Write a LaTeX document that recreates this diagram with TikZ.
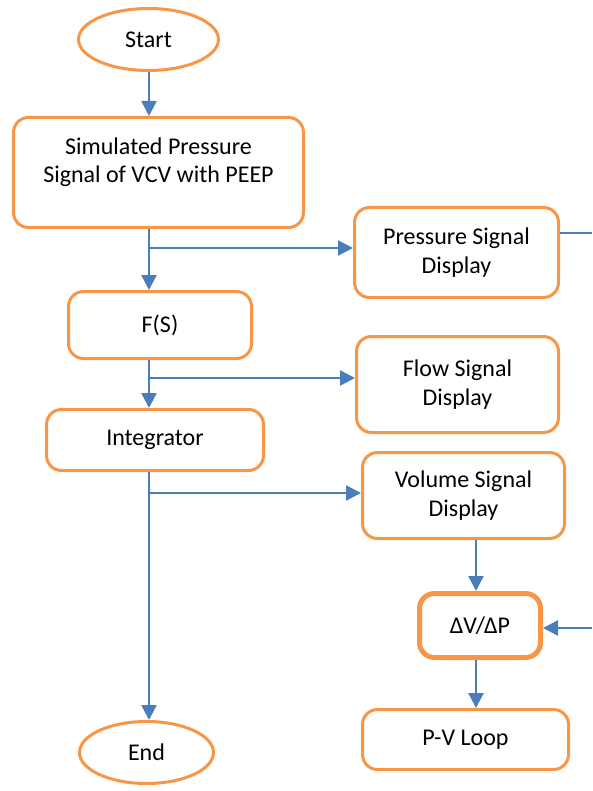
\documentclass[tikz,border=0pt]{standalone}
\usepackage{fontspec}
\setmainfont{Carlito}
\usetikzlibrary{arrows.meta,shapes.geometric}
\definecolor{boxorange}{HTML}{F79646}
\definecolor{arrblue}{HTML}{4A7EBB}
\tikzset{
	box/.style={draw=boxorange,line width=3pt,rounded corners=15pt,fill=white,align=center},
	term/.style={draw=boxorange,line width=3pt,ellipse,fill=white},
	arr/.style={draw=arrblue,line width=2.5pt,-{Triangle[length=15pt,width=15pt]}},
	wire/.style={draw=arrblue,line width=2.5pt}
}
\begin{document}
\begin{tikzpicture}[x=1pt,y=-1pt,font=\fontsize{24}{28.5}\selectfont,line join=round]
	\useasboundingbox (0,0) rectangle (592,791);
	%Các khối chính
	\node[term,minimum width=140,minimum height=62] (start) at (148.5,39.5) {Start};
	\node[box,minimum width=290,minimum height=110] (sim) at (158.5,172.5) {};
	\node[align=center] (simtxt) at ([yshift=10.5]sim.center) {Simulated Pressure\\Signal of VCV with PEEP};
	\node[box,minimum width=204,minimum height=90] (psd) at (456.5,252.5) {Pressure Signal\\Display};
	\node[box,minimum width=183,minimum height=67] (fs) at (160,325) {F(S)};
	\node[box,minimum width=202,minimum height=96] (flow) at (457.5,384.5) {Flow Signal\\Display};
	\node[box,minimum width=217,minimum height=61] (integ) at (155,440) {Integrator};
	\node[box,minimum width=202,minimum height=86] (vol) at (463.5,495.5) {Volume Signal\\Display};
	\node[box,line width=5pt,minimum width=121,minimum height=64] (dvdp) at (480,625.5) {ΔV/ΔP};
	\node[box,minimum width=206,minimum height=60] (pv) at (465.5,739.5) {P-V Loop};
	\node[term,minimum width=134,minimum height=62] (end) at (146.5,752.5) {End};
	%Các điểm rẽ nhánh
	\coordinate (b1) at (149,248);
	\coordinate (b2) at (149,378);
	\coordinate (b3) at (149,493);
	\coordinate (pout) at (592,233);
	\coordinate (pin) at (592,628);
	%Mũi tên
	\draw[arr] (b1 |- start.south) -- (b1 |- sim.north);
	\draw[arr] (b1 |- sim.south) -- (b1 |- fs.north);
	\draw[arr] (b1) -- (b1 -| psd.west);
	\draw[arr] (b1 |- fs.south) -- (b1 |- integ.north);
	\draw[arr] (b2) -- (b2 -| flow.west);
	\draw[arr] (b1 |- integ.south) -- (b1 |- end.north);
	\draw[arr] (b3) -- (b3 -| vol.west);
	\draw[arr] (476,0 |- vol.south) -- (476,0 |- dvdp.north);
	\draw[arr] (476,0 |- dvdp.south) -- (476,0 |- pv.north);
	\draw[wire] (psd.east |- pout) -- (pout);
	\draw[arr] (pin) -- (pin -| dvdp.east);
\end{tikzpicture}
\end{document}
